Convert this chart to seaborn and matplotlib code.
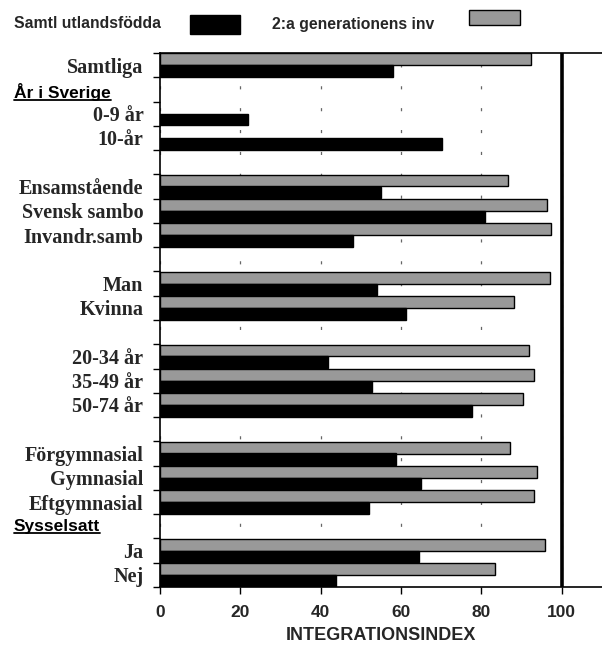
import numpy as np
import matplotlib
matplotlib.use("Agg")
import matplotlib.pyplot as plt
from matplotlib.patches import Rectangle
import pandas as pd
import seaborn as sns


OUTPUT_PATH = "out.png"

ROW_LABELS = [
    "Samtliga", "", "0-9 år", "10-år", "",
    "Ensamstående", "Svensk sambo", "Invandr.samb", "",
    "Man", "Kvinna", "",
    "20-34 år", "35-49 år", "50-74 år", "",
    "Förgymnasial", "Gymnasial", "Eftgymnasial", "",
    "Ja", "Nej",
]
nan = np.nan
UTLANDSFODDA = [
    58.0, nan, 22.0, 70.3, nan,
    55.0, 80.9, 48.1, nan,
    54.1, 61.2, nan,
    41.8, 52.8, 77.7, nan,
    58.8, 65.0, 52.1, nan,
    64.5, 43.7,
]
ANDRA_GEN = [
    92.3, nan, nan, nan, nan,
    86.6, 96.3, 97.3, nan,
    97.0, 88.1, nan,
    91.8, 93.0, 90.3, nan,
    87.1, 93.8, 93.1, nan,
    95.8, 83.4,
]
SECTION_LABELS = ["År i Sverige", "Sysselsatt"]
SECTION_ROWS = [1.1, 19]
SERIES = ["Samtl utlandsfödda", "2:a generationens inv"]
COLORS = {"Samtl utlandsfödda": "black", "2:a generationens inv": "#999999"}
X_TICKS = [0, 20, 40, 60, 80, 100]
REFERENCE = 100


def build_frame() -> pd.DataFrame:
    rows = [f"r{i}" for i in range(len(ROW_LABELS))]
    wide = pd.DataFrame({"row": rows, SERIES[0]: UTLANDSFODDA, SERIES[1]: ANDRA_GEN})
    long = wide.melt(id_vars="row", var_name="series", value_name="value")
    return long.dropna(), rows


def main() -> None:
    df, rows = build_frame()

    sns.set_theme(style="white")
    plt.rcParams["font.family"] = ["Liberation Sans", "DejaVu Sans"]
    sans = ["Liberation Sans", "DejaVu Sans"]
    serif = ["Liberation Serif", "DejaVu Serif"]

    fig = plt.figure(figsize=(6.02, 6.49), dpi=100)
    ax = fig.add_axes([160 / 602, 1 - 587 / 649, 442 / 602, 534 / 649])

    sns.barplot(
        data=df,
        x="value",
        y="row",
        hue="series",
        order=rows,
        hue_order=[SERIES[1], SERIES[0]],
        palette=COLORS,
        orient="h",
        width=0.96,
        errorbar=None,
        edgecolor="black",
        linewidth=1.0,
        legend=False,
        ax=ax,
        zorder=2,
    )

    ax.set_xlim(0, 110)
    ax.set_ylim(len(rows) - 0.5, -0.5)
    ax.axvline(REFERENCE, color="black", lw=2.6, zorder=4)

    ax.set_xticks(X_TICKS)
    ax.set_xticklabels([str(t) for t in X_TICKS], fontfamily=sans,
                       fontweight="bold", fontsize=12.5)
    ax.set_yticks(range(len(rows)))
    ax.set_yticklabels(ROW_LABELS, fontfamily=serif, fontweight="bold", fontsize=14.5)
    ax.set_yticks(np.arange(-0.5, len(rows)), minor=True)
    ax.tick_params(axis="y", which="major", length=0, pad=12)
    ax.tick_params(axis="y", which="minor", length=5, width=1, color="black", left=True)
    ax.tick_params(axis="x", which="major", length=5, width=1, color="black",
                   bottom=True, pad=8)
    ax.set_xlabel("INTEGRATIONSINDEX", fontfamily=sans, fontweight="bold",
                  fontsize=13, labelpad=5)
    ax.set_ylabel("")

    ax.xaxis.grid(True, color="#666666", lw=0.9, linestyle=(4, (2.5, 15)), zorder=0)
    ax.set_axisbelow(True)

    for side in ["left", "bottom", "top"]:
        ax.spines[side].set_color("black")
        ax.spines[side].set_linewidth(1.2)
    ax.spines["right"].set_visible(False)

    for label, row in zip(SECTION_LABELS, SECTION_ROWS):
        ax.text(-146 / 442, row, label, transform=ax.get_yaxis_transform(),
                ha="left", va="center", fontfamily=sans, fontweight="bold",
                fontsize=12.5, color="black")
    # underline for section headers
    fig.canvas.draw()
    renderer = fig.canvas.get_renderer()
    for txt in ax.texts:
        bb = txt.get_window_extent(renderer).transformed(fig.transFigure.inverted())
        fig.add_artist(plt.Line2D([bb.x0, bb.x1], [bb.y0 + 0.001, bb.y0 + 0.001],
                                  color="black", lw=1.3, transform=fig.transFigure))

    # legend at top
    fig.text(14 / 602, 1 - 24 / 649, SERIES[0], ha="left", va="center",
             fontfamily=sans, fontweight="bold", fontsize=11.3)
    fig.add_artist(Rectangle((190 / 602, 1 - 34 / 649), 50 / 602, 19 / 649,
                             transform=fig.transFigure, facecolor="black",
                             edgecolor="black"))
    fig.text(272 / 602, 1 - 24 / 649, SERIES[1], ha="left", va="center",
             fontfamily=sans, fontweight="bold", fontsize=11.3)
    fig.add_artist(Rectangle((469 / 602, 1 - 25 / 649), 51 / 602, 15 / 649,
                             transform=fig.transFigure, facecolor="#999999",
                             edgecolor="black", lw=1.0))

    fig.savefig(OUTPUT_PATH, dpi=100, facecolor="white")


if __name__ == "__main__":
    main()
